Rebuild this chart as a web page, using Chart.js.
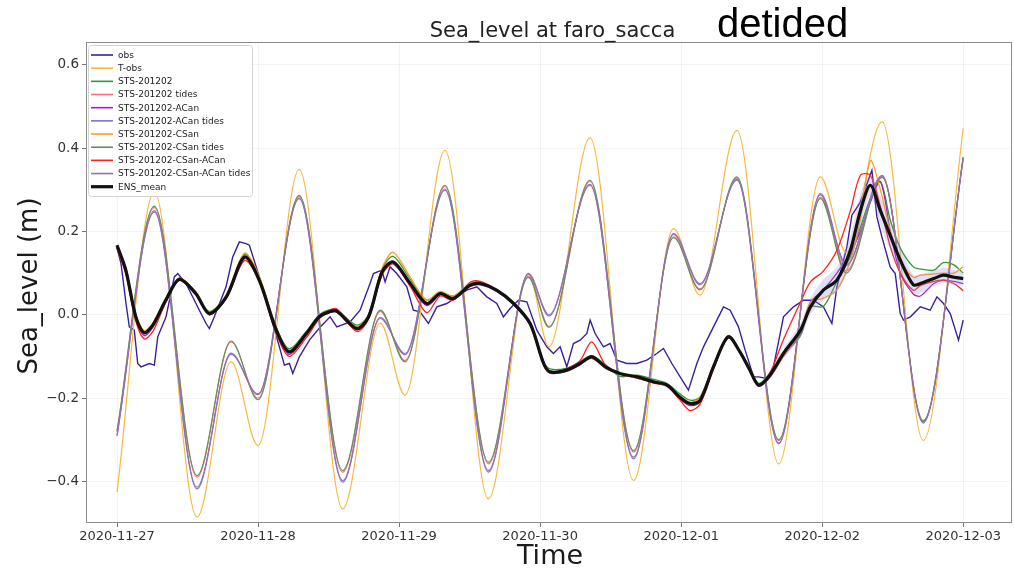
<!DOCTYPE html>
<html>
<head>
<meta charset="utf-8">
<script src="https://cdn.jsdelivr.net/npm/chart.js@4.4.1/dist/chart.umd.min.js"></script>
<style>
  html, body { margin: 0; padding: 0; background: #ffffff; }
  #wrap { width: 1014px; height: 570px; }
</style>
</head>
<body>
<div id="wrap"><canvas id="c" width="1014" height="570"></canvas></div>
<script>
// Time is measured in hours since 2020-11-27 00:00.
const xTickHours = [0, 24, 48, 72, 96, 120, 144];
const xTickLabels = ['2020-11-27', '2020-11-28', '2020-11-29', '2020-11-30', '2020-12-01', '2020-12-02', '2020-12-03'];
const yTickValues = [-0.4, -0.2, 0.0, 0.2, 0.4, 0.6];
const yTickLabels = ['\u22120.4', '\u22120.2', '0.0', '0.2', '0.4', '0.6'];

// Observed (detided) sea level
const obsHours = [0, 0.68, 1.53, 2.09, 2.94, 3.52, 4.09, 5.5, 6.35, 6.93, 8.34, 9.75, 10.33, 11.74, 14.01, 15.15, 15.71, 16.56, 18.55, 19.69,
  20.82, 21.96, 22.52, 24.22, 26.5, 27.63, 28.48, 29.33, 29.91, 31.03, 32.73, 34.55, 36.26, 37.4, 39.66, 41.36, 43.06, 43.63, 45.06, 45.62,
  46.47, 47.61, 49.31, 50.43, 51.57, 52.99, 54.42, 56.12, 57.82, 59.52, 61.23, 62.93, 64.63, 65.75, 66.89, 68.31, 69.74, 71.44, 73.14, 74.26,
  75.4, 76.54, 77.67, 78.81, 79.95, 80.51, 81.36, 82.77, 83.91, 85.06, 86.76, 88.46, 90.16, 91.86, 92.99, 94.42, 95.83, 97.24, 98.67, 99.8,
  101.5, 103.2, 104.34, 105.75, 106.89, 108.31, 109.16, 110.59, 111.71, 112.85, 113.41, 115.11, 116.82, 118.52, 120.22, 121.65, 122.5, 124.2, 125.06, 126.47,
  128.46, 129.31, 130.16, 131.57, 132.43, 133.28, 133.84, 135.0, 136.7, 138.38, 139.52, 140.65, 141.79, 143.2, 144.0];
const obs = [0.16, 0.123, 0.027, -0.029, -0.037, -0.117, -0.125, -0.117, -0.121, -0.053, -0.005, 0.091, 0.099, 0.075, 0.011, -0.021, -0.033, -0.005, 0.067, 0.139,
  0.175, 0.171, 0.167, 0.091, -0.021, -0.077, -0.121, -0.117, -0.141, -0.101, -0.061, -0.03, -0.005, -0.029, -0.017, 0.011, 0.075, 0.099, 0.107, 0.079,
  0.115, 0.099, 0.067, 0.011, 0.007, -0.021, 0.019, 0.027, 0.043, 0.059, 0.067, 0.043, 0.027, -0.005, 0.015, 0.035, 0.031, -0.037, -0.077, -0.093,
  -0.077, -0.125, -0.069, -0.061, -0.045, -0.013, -0.045, -0.077, -0.069, -0.109, -0.117, -0.117, -0.109, -0.093, -0.081, -0.117, -0.149, -0.181, -0.117, -0.077,
  -0.029, 0.019, 0.011, -0.029, -0.085, -0.149, -0.149, -0.153, -0.125, -0.045, -0.005, 0.019, 0.035, 0.035, 0.019, -0.021, 0.067, 0.163, 0.239, 0.27,
  0.347, 0.235, 0.187, 0.115, 0.099, 0.003, -0.013, -0.005, 0.019, 0.011, 0.043, 0.027, 0.003, -0.061, -0.013];

// Tidal signals: times of the highs and lows
const tideHours = [0, 6.35, 13.6, 19.4, 24.0, 31.0, 38.4, 44.8, 49.0, 55.8, 63.2, 70.0, 73.5, 80.5, 87.9, 94.7, 99.2, 105.5, 112.6, 119.7, 124.1, 130.2, 137.2, 144.0];
const tObs        = [-0.426, 0.295, -0.486, -0.113, -0.314, 0.349, -0.466, -0.02, -0.193, 0.395, -0.442, 0.10, -0.077, 0.425, -0.398, 0.207, 0.047, 0.443, -0.358, 0.331, 0.15, 0.463, -0.302, 0.448];
const stsTides    = [-0.28, 0.258, -0.39, -0.065, -0.2, 0.285, -0.378, 0.008, -0.11, 0.308, -0.358, 0.092, -0.028, 0.32, -0.33, 0.187, 0.062, 0.328, -0.302, 0.282, 0.105, 0.332, -0.256, 0.376];
const acanTides   = [-0.29, 0.247, -0.418, -0.095, -0.19, 0.279, -0.402, -0.009, -0.093, 0.299, -0.378, 0.099, 0.0, 0.311, -0.346, 0.195, 0.075, 0.323, -0.31, 0.291, 0.12, 0.335, -0.26, 0.379];
const csanTides   = [-0.28, 0.261, -0.386, -0.063, -0.204, 0.287, -0.374, 0.011, -0.113, 0.311, -0.354, 0.09, -0.03, 0.323, -0.326, 0.185, 0.06, 0.331, -0.30, 0.279, 0.10, 0.33, -0.254, 0.375];
const csanAcanTides = [-0.29, 0.25, -0.414, -0.092, -0.192, 0.281, -0.398, -0.006, -0.096, 0.302, -0.374, 0.097, -0.003, 0.313, -0.342, 0.193, 0.072, 0.325, -0.308, 0.288, 0.118, 0.333, -0.258, 0.378];

// Model runs (detided) and ensemble mean
const detidedHours = [0, 1.5, 3.2, 4.6, 6.1, 8.3, 10.6, 13.4, 15.7, 18.6, 21.7, 24.2, 27.1, 29.3, 32.2, 34.4, 36.1, 37.4, 40.8, 42.8,
  45.1, 47.0, 49.9, 52.7, 55.0, 57.2, 60.1, 61.8, 64.6, 67.5, 70.3, 72.6, 73.7, 76.5, 78.8, 80.8, 83.1, 85.6, 88.5, 91.3,
  93.6, 95.8, 97.5, 99.2, 101.5, 104.0, 106.0, 107.7, 109.2, 111.1, 113.4, 116.3, 118.0, 120.2, 122.5, 124.8, 126.5, 128.2, 129.9, 131.6,
  133.3, 135.5, 136.7, 139.0, 140.6, 142.4, 144.0];
const sts = [0.165, 0.11, 0.0, -0.04, -0.02, 0.04, 0.088, 0.055, 0.008, 0.046, 0.145, 0.09, -0.03, -0.082, -0.04, 0.0, 0.012, 0.012, -0.025, 0.0,
  0.11, 0.14, 0.085, 0.035, 0.055, 0.045, 0.075, 0.078, 0.06, 0.03, -0.018, -0.112, -0.13, -0.128, -0.112, -0.098, -0.12, -0.148, -0.145, -0.155,
  -0.165, -0.19, -0.205, -0.198, -0.12, -0.05, -0.088, -0.13, -0.165, -0.14, -0.095, -0.05, 0.019, 0.02, 0.08, 0.14, 0.21, 0.28, 0.32, 0.227,
  0.16, 0.115, 0.11, 0.107, 0.125, 0.12, 0.10];
const acan = [0.163, 0.1, -0.01, -0.05, -0.03, 0.032, 0.083, 0.048, 0.0, 0.04, 0.135, 0.08, -0.042, -0.095, -0.05, -0.008, 0.005, 0.006, -0.036, -0.008,
  0.098, 0.122, 0.07, 0.022, 0.048, 0.036, 0.068, 0.072, 0.056, 0.024, -0.025, -0.12, -0.14, -0.136, -0.12, -0.098, -0.128, -0.142, -0.152, -0.163,
  -0.172, -0.202, -0.218, -0.21, -0.128, -0.055, -0.09, -0.135, -0.172, -0.15, -0.1, -0.045, 0.03, 0.06, 0.10, 0.15, 0.20, 0.27, 0.32, 0.20,
  0.10, 0.05, 0.045, 0.075, 0.083, 0.08, 0.075];
const csan = [0.168, 0.112, 0.0, -0.038, -0.02, 0.038, 0.087, 0.054, 0.006, 0.047, 0.148, 0.092, -0.032, -0.085, -0.042, -0.002, 0.01, 0.011, -0.028, -0.002,
  0.112, 0.15, 0.09, 0.035, 0.056, 0.044, 0.074, 0.076, 0.058, 0.028, -0.02, -0.115, -0.138, -0.135, -0.118, -0.105, -0.128, -0.143, -0.152, -0.163,
  -0.17, -0.196, -0.21, -0.2, -0.122, -0.05, -0.088, -0.132, -0.168, -0.148, -0.1, -0.04, 0.03, 0.04, 0.06, 0.13, 0.23, 0.37, 0.30, 0.20,
  0.13, 0.09, 0.095, 0.098, 0.10, 0.10, 0.115];
const csanAcan = [0.16, 0.098, -0.015, -0.058, -0.04, 0.03, 0.088, 0.05, 0.0, 0.04, 0.13, 0.08, -0.045, -0.1, -0.055, -0.01, 0.01, 0.014, -0.04, -0.01,
  0.095, 0.123, 0.068, 0.005, 0.045, 0.035, 0.078, 0.08, 0.06, 0.028, -0.022, -0.12, -0.14, -0.13, -0.11, -0.065, -0.12, -0.142, -0.15, -0.164,
  -0.17, -0.205, -0.23, -0.215, -0.13, -0.055, -0.09, -0.135, -0.17, -0.14, -0.06, 0.03, 0.079, 0.105, 0.155, 0.25, 0.335, 0.335, 0.26, 0.163,
  0.10, 0.059, 0.07, 0.08, 0.083, 0.075, 0.058];
const ensMean = [0.167, 0.107, -0.005, -0.043, -0.025, 0.035, 0.085, 0.051, 0.003, 0.043, 0.139, 0.083, -0.037, -0.089, -0.045, -0.005, 0.007, 0.009, -0.033, -0.005,
  0.103, 0.127, 0.075, 0.027, 0.051, 0.039, 0.071, 0.075, 0.059, 0.027, -0.021, -0.117, -0.137, -0.133, -0.117, -0.101, -0.125, -0.141, -0.149, -0.161,
  -0.169, -0.198, -0.213, -0.206, -0.125, -0.053, -0.089, -0.133, -0.169, -0.145, -0.093, -0.037, 0.019, 0.059, 0.083, 0.155, 0.25, 0.311, 0.25, 0.19,
  0.131, 0.072, 0.075, 0.087, 0.095, 0.09, 0.087];

// Ensemble spread envelope
const spreadHours = [113.4, 116.3, 118.0, 120.2, 122.5, 124.8, 126.5, 128.2, 129.9, 131.6, 133.3, 135.5, 136.7, 139.0, 140.6, 142.4, 144.0];
const spreadLow  = [-0.105, -0.055, 0.0, 0.035, 0.055, 0.12, 0.21, 0.285, 0.215, 0.155, 0.10, 0.05, 0.052, 0.068, 0.077, 0.072, 0.07];
const spreadHigh = [-0.08, -0.02, 0.04, 0.085, 0.115, 0.19, 0.29, 0.335, 0.285, 0.225, 0.165, 0.095, 0.098, 0.106, 0.113, 0.108, 0.104];

function pts(hours, values) {
  return hours.map((h, i) => ({ x: h, y: values[i] }));
}

function series(label, hours, values, color, width, smooth) {
  const ds = {
    label: label,
    data: pts(hours, values),
    borderColor: color,
    backgroundColor: color,
    borderWidth: width,
    pointRadius: 0,
    fill: false
  };
  if (smooth === 'tide') ds.cubicInterpolationMode = 'monotone';
  else ds.tension = smooth;
  return ds;
}

const spreadLower = {
  label: 'spread low', inLegend: false,
  data: pts(spreadHours, spreadLow),
  borderWidth: 0, pointRadius: 0, tension: 0.3, fill: false
};
const spreadUpper = {
  label: 'spread high', inLegend: false,
  data: pts(spreadHours, spreadHigh),
  borderWidth: 0, pointRadius: 0, tension: 0.3,
  fill: '-1', backgroundColor: 'rgba(150,135,215,0.28)'
};

const datasets = [
  series('obs', obsHours, obs, '#3a1f9c', 1.4, 0),
  series('T-obs', tideHours, tObs, '#f5b942', 1.2, 'tide'),
  series('STS-201202', detidedHours, sts, '#2f9a35', 1.3, 0.3),
  series('STS-201202 tides', tideHours, stsTides, '#ff6f86', 1.2, 'tide'),
  series('STS-201202-ACan', detidedHours, acan, '#9c27b5', 1.3, 0.3),
  series('STS-201202-ACan tides', tideHours, acanTides, '#7e72d8', 1.2, 'tide'),
  series('STS-201202-CSan', detidedHours, csan, '#ff9d1f', 1.3, 0.3),
  series('STS-201202-CSan tides', tideHours, csanTides, '#5f9456', 1.2, 'tide'),
  series('STS-201202-CSan-ACan', detidedHours, csanAcan, '#ff1f1f', 1.3, 0.3),
  series('STS-201202-CSan-ACan tides', tideHours, csanAcanTides, '#9a6fa6', 1.2, 'tide'),
  spreadLower,
  spreadUpper,
  series('ENS_mean', detidedHours, ensMean, '#111111', 3.2, 0.3)
];
// later series are painted over earlier ones
datasets.forEach((d, i) => { d.order = datasets.length - i; });

const decorations = {
  id: 'decorations',
  afterDatasetsDraw(chart) {
    const ctx = chart.ctx;
    const a = chart.chartArea;
    ctx.save();
    // axes frame
    ctx.strokeStyle = '#8c8c8c';
    ctx.lineWidth = 1;
    ctx.strokeRect(a.left + 0.5, a.top + 0.5, a.right - a.left - 1, a.bottom - a.top - 1);

    // legend box in the upper-left corner
    const bx = a.left + 2.5, by = a.top + 3.5, bw = 164, bh = 151;
    ctx.beginPath();
    ctx.roundRect(bx, by, bw, bh, 3);
    ctx.fillStyle = 'rgba(255,255,255,0.85)';
    ctx.fill();
    ctx.strokeStyle = '#d4d4d4';
    ctx.stroke();
    ctx.font = '9px "DejaVu Sans"';
    ctx.textBaseline = 'middle';
    ctx.textAlign = 'left';
    chart.data.datasets.filter(d => d.inLegend !== false).forEach((d, i) => {
      const y = a.top + 13 + i * 13.17;
      ctx.beginPath();
      ctx.moveTo(a.left + 5, y);
      ctx.lineTo(a.left + 27, y);
      ctx.strokeStyle = d.borderColor;
      ctx.lineWidth = d.borderWidth > 2 ? 3.2 : 1.6;
      ctx.stroke();
      ctx.fillStyle = '#222';
      ctx.fillText(d.label, a.left + 32, y + 0.5);
    });
    ctx.restore();
  },
  afterDraw(chart) {
    const ctx = chart.ctx;
    ctx.save();
    ctx.fillStyle = '#222';
    ctx.textBaseline = 'alphabetic';
    ctx.textAlign = 'center';
    ctx.font = '21px "DejaVu Sans"';
    ctx.fillText('Sea_level at faro_sacca', 552.5, 37);
    ctx.fillStyle = '#000';
    ctx.textAlign = 'left';
    ctx.font = '40px "Liberation Sans"';
    ctx.fillText('detided', 717, 37);
    ctx.fillStyle = '#1a1a1a';
    ctx.textAlign = 'center';
    ctx.font = '27px "DejaVu Sans"';
    ctx.fillText('Time', 550, 564);
    ctx.translate(37, 286);
    ctx.rotate(-Math.PI / 2);
    ctx.font = '26px "DejaVu Sans"';
    ctx.fillText('Sea_level (m)', 0, 0);
    ctx.restore();
  }
};

new Chart(document.getElementById('c'), {
  type: 'line',
  data: { datasets: datasets },
  options: {
    responsive: false,
    animation: false,
    events: [],
    layout: { padding: { top: 42, right: 2, left: 0, bottom: 0 } },
    plugins: { legend: { display: false }, title: { display: false }, tooltip: { enabled: false } },
    scales: {
      x: {
        type: 'linear',
        min: -5.28,
        max: 152.3,
        afterBuildTicks(scale) { scale.ticks = xTickHours.map(v => ({ value: v })); },
        afterFit(scale) { scale.height = 47; },
        ticks: {
          autoSkip: false,
          maxRotation: 0,
          padding: 2,
          color: '#333',
          font: { family: 'DejaVu Sans', size: 13 },
          callback: (v) => xTickLabels[xTickHours.indexOf(v)]
        },
        grid: { color: 'rgba(0,0,0,0.045)', tickColor: '#777', tickLength: 4 },
        border: { display: false }
      },
      y: {
        type: 'linear',
        min: -0.5,
        max: 0.655,
        afterBuildTicks(scale) { scale.ticks = yTickValues.map(v => ({ value: v })); },
        afterFit(scale) { scale.width = 86; },
        ticks: {
          padding: 3,
          color: '#333',
          font: { family: 'DejaVu Sans', size: 13.5 },
          callback: (v) => yTickLabels[yTickValues.findIndex(t => Math.abs(t - v) < 1e-9)]
        },
        grid: { color: 'rgba(0,0,0,0.045)', tickColor: '#777', tickLength: 4 },
        border: { display: false }
      }
    }
  },
  plugins: [decorations]
});
</script>
</body>
</html>
